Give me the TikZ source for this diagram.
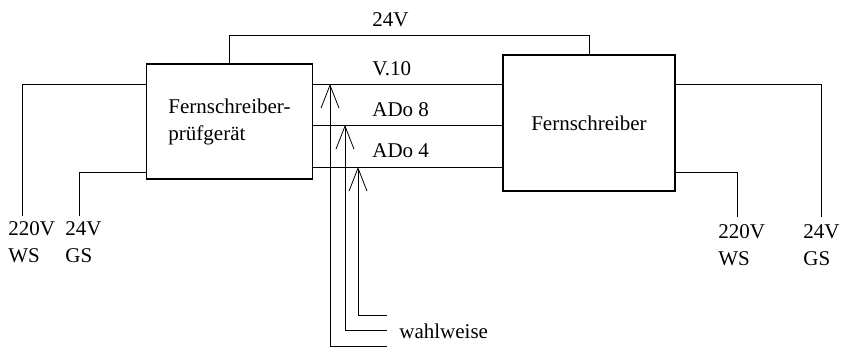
\documentclass[tikz,border=0pt]{standalone}
\usepackage{fontspec}
\setmainfont{Liberation Serif}
\usetikzlibrary{arrows.meta,positioning,calc}

\begin{document}
\begin{tikzpicture}[x=1pt,y=-1pt,line width=0.8pt,
  every node/.style={font=\fontsize{21}{27}\selectfont,inner sep=0pt},
  device/.style={draw,line width=1.8pt,align=left},
  feed/.style={-{Straight Barb[length=23pt,width=18pt]}},
  supply/.style={anchor=north west,align=left}]
\useasboundingbox (0,0) rectangle (845,348);
% Geraete
\node[device,minimum width=166pt,minimum height=115pt] (pg) at (229.5,121.5) {Fernschreiber-\\prüfgerät};
\node[device,minimum width=172pt,minimum height=136pt] (fs) at (589,123) {Fernschreiber};
% Hoehen der Leitungen
\coordinate (top) at (0,35);
\coordinate (v10) at (0,84);
\coordinate (ado8) at (0,125);
\coordinate (ado4) at (0,167);
\coordinate (lo) at (0,172);
% 24V Verbindung oben
\draw (pg.north) |- (top -| fs.north) -- (fs.north);
\node[anchor=base west] (u24) at (372,27) {24V};
% Schnittstellen
\foreach \s in {v10,ado8,ado4}
  \draw (pg.east |- \s) -- (fs.west |- \s);
\node[anchor=base west] (lv10) at (372,75) {V.10};
\node[anchor=base west] (lado8) at (372,116) {ADo 8};
\node[anchor=base west] (lado4) at (372,157) {ADo 4};
% wahlweise Einspeisung
\foreach \x/\y/\s in {330/346/v10,345/330/ado8,358/315/ado4} {
  \coordinate (w\s) at (387,\y);
  \draw[feed] (w\s) -| (\s -| \x,0);
}
\node[anchor=west] (wahl) at (399,331) {wahlweise};
% Stromversorgung
\coordinate (e1) at (22,216);
\coordinate (e2) at (79,216);
\coordinate (e3) at (737,217);
\coordinate (e4) at (821,217);
\draw (pg.west |- v10) -| (e1);
\draw (pg.west |- lo) -| (e2);
\draw (fs.east |- lo) -| (e3);
\draw (fs.east |- v10) -| (e4);
\node[supply] (ws1) at (8,221) {220V\\WS};
\node[supply] (gs1) at (65,221) {24V\\GS};
\node[supply] (ws2) at (718,224) {220V\\WS};
\node[supply] (gs2) at (803,224) {24V\\GS};
\end{tikzpicture}
\end{document}
